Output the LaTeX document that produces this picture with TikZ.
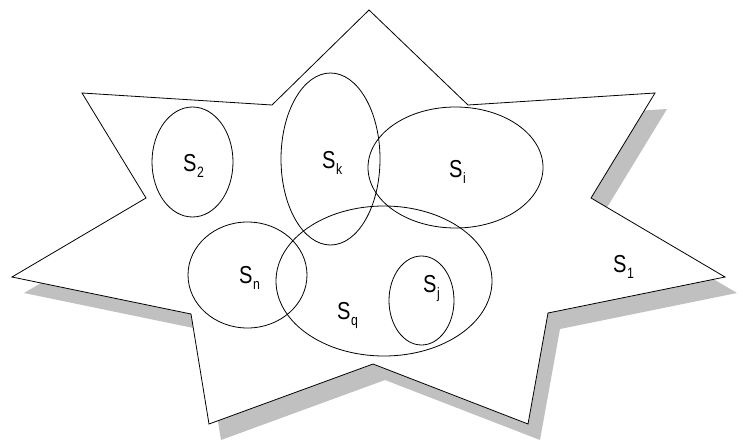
\documentclass[tikz,border=0pt]{standalone}
\usepackage{fontspec}
\setmainfont{Liberation Sans}
\usetikzlibrary{shapes.geometric}
\newcommand{\setlbl}[1]{\scalebox{0.82}[1]{\fontsize{24.5}{24.5}\selectfont S\kern0.5pt\raisebox{-6pt}{\fontsize{15}{15}\selectfont #1}}}
\definecolor{shadowgray}{RGB}{192,192,192}
\tikzset{
  setring/.style={ellipse, draw=black, line width=0.8pt, inner sep=0pt, outer sep=0pt},
  lbl/.style={anchor=base west, inner sep=0pt},
}
\begin{document}
\begin{tikzpicture}[x=1pt,y=-1pt]
\useasboundingbox (0,0) rectangle (743,441);
% star shadow
\begin{scope}[shift={(12,16)}]
\fill[shadowgray] (369,10) -- (468,105) -- (655,93) -- (591,198) -- (725,277) -- (548,313) -- (528,424) -- (373,364) -- (209,424) -- (191,314) -- (12,277) -- (146,198) -- (82,93) -- (272,105) -- cycle;
\end{scope}
% star outline
\draw[fill=white, line width=0.8pt, line join=miter] (369,10) -- (468,105) -- (655,93) -- (591,198) -- (725,277) -- (548,313) -- (528,424) -- (373,364) -- (209,424) -- (191,314) -- (12,277) -- (146,198) -- (82,93) -- (272,105) -- cycle;
% sets
\node[setring, minimum width=81pt, minimum height=110pt] (s2) at (192.5,162) {};
\node[setring, minimum width=99pt, minimum height=172pt] (sk) at (330.5,159) {};
\node[setring, minimum width=175pt, minimum height=121pt] (si) at (455.5,167.5) {};
\node[setring, minimum width=119pt, minimum height=106pt] (sn) at (247.5,275) {};
\node[setring, minimum width=216pt, minimum height=150pt] (sq) at (384,281) {};
\node[setring, minimum width=65pt, minimum height=89pt] (sj) at (421.5,300.5) {};
% labels
\node[lbl] (l2) at (183,171) {\setlbl{2}};
\node[lbl] (lk) at (322,168) {\setlbl{k}};
\node[lbl] (li) at (449,177) {\setlbl{i}};
\node[lbl] (l1) at (613,272) {\setlbl{1}};
\node[lbl] (ln) at (239,283) {\setlbl{n}};
\node[lbl] (lq) at (337,319) {\setlbl{q}};
\node[lbl] (lj) at (423,292) {\setlbl{j}};
\end{tikzpicture}
\end{document}
